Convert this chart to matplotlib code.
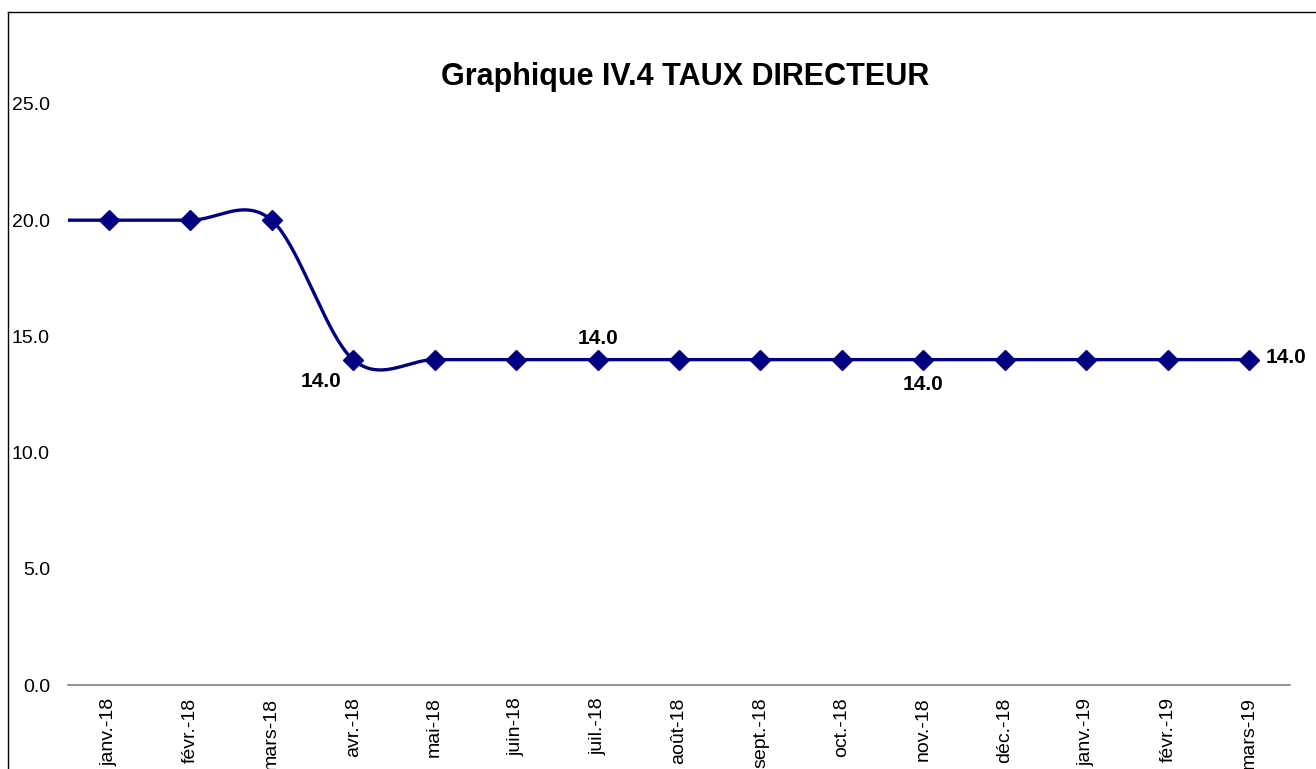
import numpy as np
from matplotlib import pyplot as plt
from matplotlib.lines import Line2D

# dec.-17 sits just outside the visible range (the line enters from the left edge)
MONTHS = ["déc.-17", "janv.-18", "févr.-18", "mars-18", "avr.-18", "mai-18", "juin-18",
          "juil.-18", "août-18", "sept.-18", "oct.-18", "nov.-18", "déc.-18",
          "janv.-19", "févr.-19", "mars-19"]
TAUX = [20.0, 20.0, 20.0, 20.0, 14.0, 14.0, 14.0, 14.0, 14.0, 14.0, 14.0, 14.0,
        14.0, 14.0, 14.0, 14.0]
LABELLED = ["avr.-18", "juil.-18", "nov.-18", "mars-19"]
Y_TICKS = [0, 5, 10, 15, 20, 25]
NAVY = "#000080"


def smooth(x, y, n=40):
    # excel-like smoothed line (catmull-rom through the points)
    x = np.asarray(x, float)
    y = np.asarray(y, float)
    xs, ys = [], []
    for i in range(len(x) - 1):
        p0 = (x[max(i - 1, 0)], y[max(i - 1, 0)])
        p1 = (x[i], y[i])
        p2 = (x[i + 1], y[i + 1])
        p3 = (x[min(i + 2, len(x) - 1)], y[min(i + 2, len(x) - 1)])
        t = np.linspace(0, 1, n)
        for k, out in ((0, xs), (1, ys)):
            a, b, c, d = p0[k], p1[k], p2[k], p3[k]
            out.extend(0.5 * (2 * b + (-a + c) * t + (2 * a - 5 * b + 4 * c - d) * t ** 2
                              + (-a + 3 * b - 3 * c + d) * t ** 3))
    return xs, ys


def main():
    plt.rcParams['font.family'] = ['Liberation Sans', 'DejaVu Sans']
    fig = plt.figure(figsize=(13.16, 7.69), dpi=100)
    ax = fig.add_axes([68 / 1316, 1 - 685 / 769, (1290 - 68) / 1316, (685 - 104) / 769])

    x = np.arange(len(MONTHS)) - 1
    sx, sy = smooth(x, TAUX)
    ax.plot(sx, sy, color=NAVY, lw=2.4, zorder=2)
    ax.plot(x, TAUX, ls="none", marker="D", ms=10, color=NAVY, zorder=3)

    # data labels
    offsets = {"avr.-18": (-32, -22, "center", "center"),
               "juil.-18": (0, 21, "center", "center"),
               "nov.-18": (0, -25, "center", "center"),
               "mars-19": (16, 2, "left", "center")}
    for m in LABELLED:
        i = MONTHS.index(m)
        dx, dy, ha, va = offsets[m]
        ax.annotate(f"{TAUX[i]:.1f}", (x[i], TAUX[i]), xytext=(dx, dy),
                    textcoords="offset pixels", ha=ha, va=va,
                    fontsize=15, fontweight="bold", annotation_clip=False)

    ax.set_xlim(0.5 - 1, len(MONTHS) - 1.5)
    ax.set_ylim(0, 25)
    ax.set_xticks(x[1:])
    ax.set_xticklabels(MONTHS[1:], rotation=90, fontsize=14)
    ax.set_yticks(Y_TICKS)
    ax.set_yticklabels([f"{v:.1f}" for v in Y_TICKS], fontsize=14)
    ax.tick_params(axis="both", length=0)
    ax.tick_params(axis="y", pad=13)
    ax.tick_params(axis="x", pad=9)
    for s in ("top", "right", "left"):
        ax.spines[s].set_visible(False)
    ax.spines["bottom"].set_color("#808080")
    ax.spines["bottom"].set_linewidth(1.2)

    fig.text(685 / 1316, 1 - 77 / 769, "Graphique IV.4 TAUX DIRECTEUR",
             ha="center", va="center", fontsize=22, fontweight="bold")

    # chart area border (left and top)
    fig.add_artist(Line2D([8 / 1316, 8 / 1316], [0, 1 - 12 / 769], color="black", lw=1))
    fig.add_artist(Line2D([8 / 1316, 1], [1 - 12 / 769, 1 - 12 / 769], color="black", lw=1))

    fig.savefig("out.png", dpi=100)


if __name__ == "__main__":
    main()
